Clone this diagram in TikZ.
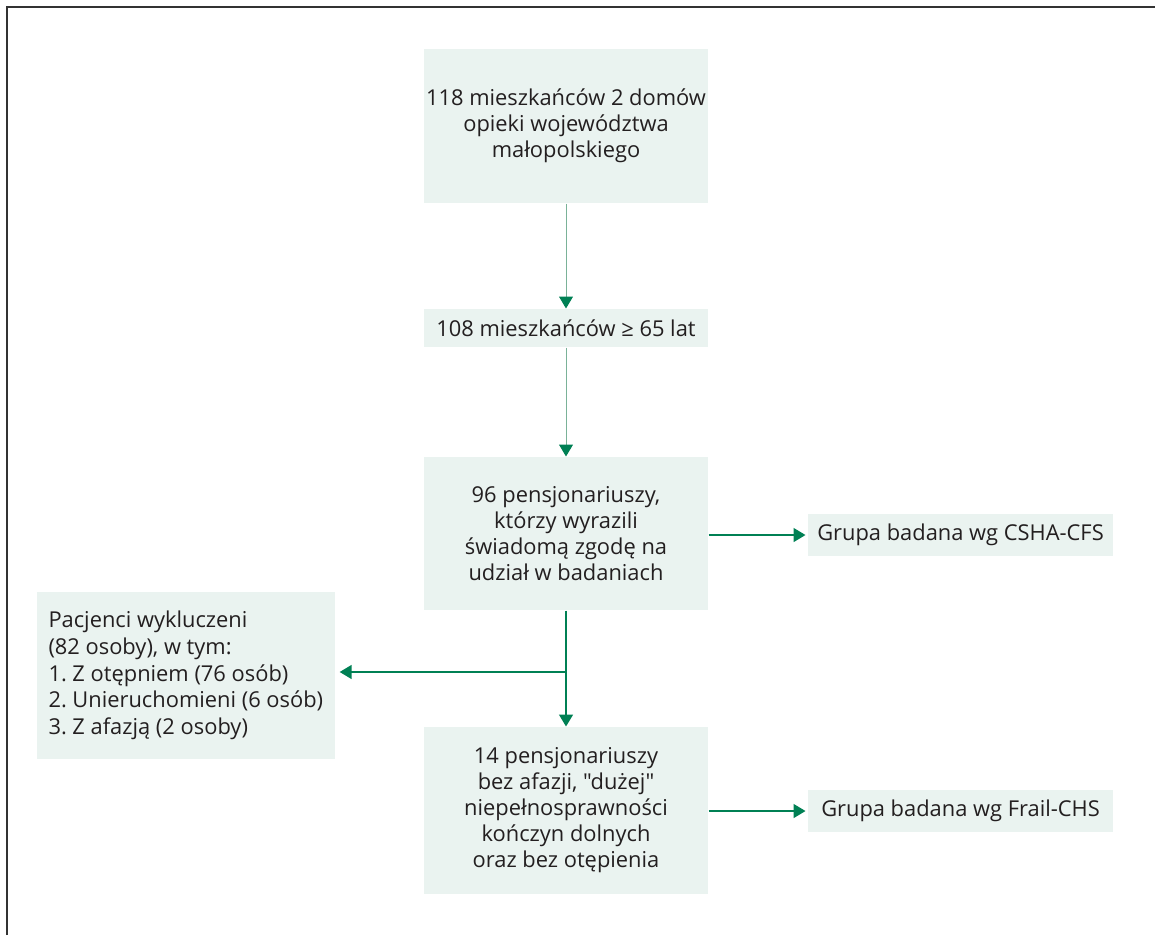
\documentclass[tikz,border=0pt]{standalone}
\usepackage{fontspec}
\setmainfont{Open Sans}[Ligatures=TeXOff]
\usetikzlibrary{arrows.meta}

\definecolor{boxfill}{RGB}{234,243,240}
\definecolor{arrgreen}{RGB}{0,128,84}
\definecolor{arrlight}{RGB}{122,178,152}
\definecolor{txtdark}{RGB}{35,31,32}
\definecolor{framegray}{RGB}{51,51,51}

\tikzset{every picture/.style={line width=0.75pt}}
\tikzset{
  flowbox/.style={fill=boxfill, draw=none, inner sep=0pt, text=txtdark, align=center,
    font=\fontsize{16.4}{19.5}\selectfont\frenchspacing},
  greenarr/.style={draw=arrgreen, line width=1.1pt, -{Triangle[width=10.5pt,length=9pt]}},
  lightarr/.style={draw=arrlight, line width=0.75pt, -{Triangle[width=10.5pt,length=9pt,color=arrgreen]}}
}

\begin{document}
\begin{tikzpicture}[x=0.75pt,y=0.75pt,yscale=-1,xscale=1]
\useasboundingbox (0,0) rectangle (1155,935);

%Frame
\draw [color=framegray, line width=1.5pt] (6.5,935) -- (6.5,6.5) -- (1155,6.5) ;

% Text Node
\node [flowbox, minimum width=284*0.75pt, minimum height=154*0.75pt] (homes) at (566,126)
  {118 mieszkańców 2 domów\\opieki województwa\\małopolskiego};
% Text Node
\node [flowbox, minimum width=284*0.75pt, minimum height=38*0.75pt] (aged) at (566,328)
  {108 mieszkańców ≥ 65 lat};
% Text Node
\node [flowbox, minimum width=284*0.75pt, minimum height=153*0.75pt] (consent) at (566,533.5)
  {96 pensjonariuszy,\\którzy wyrazili\\świadomą zgodę na\\udział w badaniach};
% Text Node
\node [flowbox, minimum width=305*0.75pt, minimum height=42*0.75pt] (csha) at (960.5,535)
  {Grupa badana wg CSHA-CFS};
% Text Node
\node [flowbox, anchor=west, minimum width=293*0.75pt, minimum height=167*0.75pt, align=left,
  inner xsep=9pt, font=\fontsize{16.4}{20}\selectfont\frenchspacing] (excl) at (36,675.5)
  {Pacjenci wykluczeni\\(82 osoby), w tym:\\1. Z otępniem (76 osób)\\2. Unieruchomieni (6 osób)\\3. Z afazją (2 osoby)};
% Text Node
\node [flowbox, minimum width=284*0.75pt, minimum height=167*0.75pt] (final) at (566,810.5)
  {14 pensjonariuszy\\bez afazji, "dużej"\\niepełnosprawności\\kończyn dolnych\\oraz bez otępienia};
% Text Node
\node [flowbox, minimum width=305*0.75pt, minimum height=42*0.75pt] (frail) at (960.5,811)
  {Grupa badana wg Frail-CHS};

%Straight Lines
\draw [lightarr] (homes.south) -- (aged.north) ;
%Straight Lines
\draw [lightarr] (aged.south) -- (consent.north) ;
%Straight Lines
\draw [greenarr] (consent.south) -- (final.north) ;
\coordinate (split) at (566,672) ;
%Straight Lines
\draw [greenarr, shorten >=4*0.75pt] (split) -- (split -| excl.east) ;
%Straight Lines
\draw [greenarr, shorten >=2*0.75pt] (consent.east |- csha.west) -- (csha.west) ;
%Straight Lines
\draw [greenarr, shorten >=2*0.75pt] (final.east |- frail.west) -- (frail.west) ;

\end{tikzpicture}
\end{document}
